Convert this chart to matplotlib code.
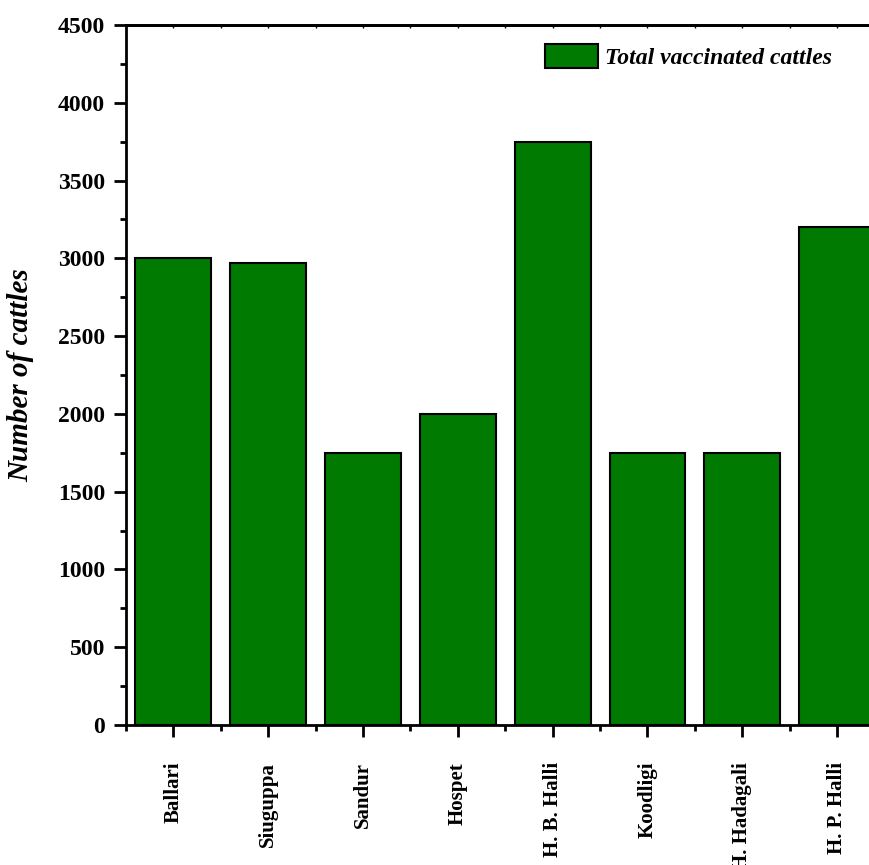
#!/usr/bin/env python3
"""Bar chart of vaccinated cattle per taluk."""

import matplotlib

matplotlib.use("Agg")
import matplotlib.pyplot as plt
from matplotlib.ticker import FixedLocator, MultipleLocator

taluks = [
    "Ballari",
    "Siuguppa",
    "Sandur",
    "Hospet",
    "H. B. Halli",
    "Koodligi",
    "H. Hadagali",
    "H. P. Halli",
]
vaccinated = [3000, 2970, 1750, 2000, 3750, 1750, 1750, 3200]

W, H = 870, 865
plt.rcParams["font.family"] = ["Liberation Serif", "DejaVu Serif"]
plt.rcParams["font.weight"] = "bold"

fig = plt.figure(figsize=(W / 100, H / 100), dpi=100)
# axes run past the right edge of the figure on purpose
left, right, bottom, top = 126, 884.5, 725, 25
ax = fig.add_axes([left / W, 1 - bottom / H, (right - left) / W, (bottom - top) / H])

pos = list(range(1, len(taluks) + 1))
ax.bar(pos, vaccinated, width=0.8, color="#007A00", edgecolor="black",
       linewidth=1.5, label="Total vaccinated cattles", zorder=2)

ax.set_xlim(0.5, len(taluks) + 0.5)
ax.set_ylim(0, 4500)
ax.yaxis.set_major_locator(MultipleLocator(500))
ax.yaxis.set_minor_locator(MultipleLocator(250))
ax.set_xticks(pos)
ax.set_xticklabels(taluks, rotation=90, fontsize=15, fontweight="bold")
ax.xaxis.set_minor_locator(FixedLocator([p + 0.5 for p in range(0, len(taluks) + 1)]))

for lbl in ax.get_yticklabels():
    lbl.set_fontsize(17)
    lbl.set_fontweight("bold")

ax.tick_params(axis="y", which="major", direction="out", length=8.6, width=2, pad=6.5)
ax.tick_params(axis="y", which="minor", direction="out", length=4.3, width=2)
ax.tick_params(axis="x", which="major", direction="out", length=8.6, width=2, pad=18)
ax.tick_params(axis="x", which="minor", direction="out", length=4.3, width=2)

# thin inward ticks along the top edge
top_ax = ax.secondary_xaxis("top")
top_ax.set_xticks(pos)
top_ax.set_xticklabels([])
top_ax.xaxis.set_minor_locator(FixedLocator([p + 0.5 for p in range(0, len(taluks) + 1)]))
top_ax.tick_params(which="both", direction="in", length=2.5, width=1)
top_ax.spines["top"].set_linewidth(2)

for sp in ax.spines.values():
    sp.set_linewidth(2)

ax.set_ylabel("Number of cattles", fontsize=21, fontweight="bold",
              fontstyle="italic", labelpad=17)

ax.legend(loc="upper left", bbox_to_anchor=(545 / W, 1 - 44 / H),
          bbox_transform=fig.transFigure, frameon=False, borderpad=0,
          borderaxespad=0, handlelength=2.25, handleheight=1.2,
          handletextpad=0.3,
          prop={"size": 17, "weight": "bold", "style": "italic"})

fig.savefig("out.png", dpi=100)
